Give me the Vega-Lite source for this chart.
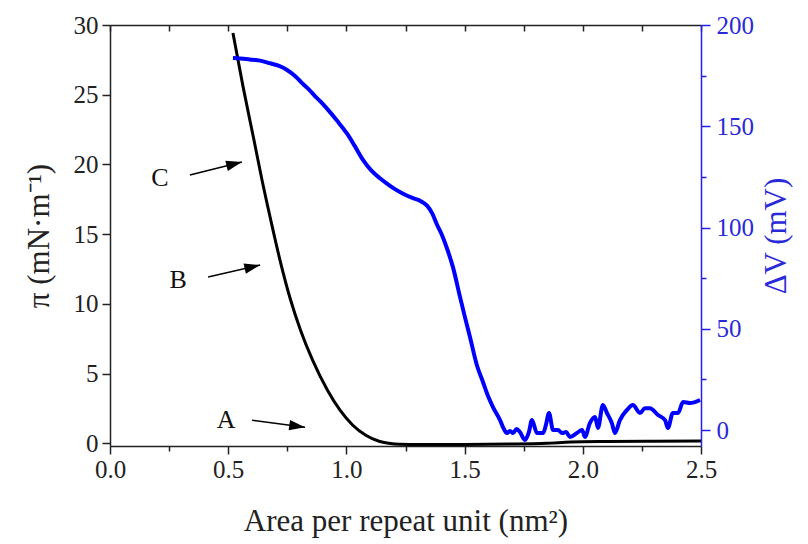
{
  "$schema": "https://vega.github.io/schema/vega-lite/v6.json",
  "width": 591,
  "height": 421,
  "autosize": {"type": "none"},
  "padding": {"left": 110, "top": 25, "right": 107, "bottom": 98},
  "background": "white",
  "config": {
    "view": {"stroke": null},
    "font": "Liberation Serif",
    "axis": {
      "labelFont": "Liberation Serif",
      "titleFont": "Liberation Serif",
      "grid": false,
      "labelFontSize": 25,
      "titleFontSize": 31,
      "titleFontWeight": "normal",
      "labelOverlap": false,
      "labelFlush": false,
      "labelBound": false
    }
  },
  "datasets": {
    "pi": [
      {"x": 0.520, "y": 29.43}, {"x": 0.563, "y": 25.56}, {"x": 0.609, "y": 21.75}, {"x": 0.643, "y": 18.88},
      {"x": 0.680, "y": 16.01}, {"x": 0.719, "y": 13.14}, {"x": 0.764, "y": 10.27}, {"x": 0.806, "y": 8.11},
      {"x": 0.857, "y": 5.96}, {"x": 0.920, "y": 3.80}, {"x": 0.973, "y": 2.37}, {"x": 1.027, "y": 1.29},
      {"x": 1.082, "y": 0.57}, {"x": 1.138, "y": 0.14}, {"x": 1.180, "y": 0.0}, {"x": 1.227, "y": -0.07},
      {"x": 1.3, "y": -0.09}, {"x": 1.5, "y": -0.09}, {"x": 1.7, "y": -0.06},
      {"x": 1.85, "y": 0.0}, {"x": 1.95, "y": 0.08}, {"x": 2.1, "y": 0.12}, {"x": 2.3, "y": 0.14}, {"x": 2.5, "y": 0.15}
    ],
    "dv": [
      {"x": 0.520, "y": 183.7}, {"x": 0.550, "y": 183.5}, {"x": 0.592, "y": 183.0}, {"x": 0.635, "y": 182.4}, {"x": 0.677, "y": 181.1}, {"x": 0.715, "y": 179.8}, {"x": 0.749, "y": 177.8},
      {"x": 0.785, "y": 174.6}, {"x": 0.816, "y": 170.9}, {"x": 0.843, "y": 168.0}, {"x": 0.867, "y": 164.9}, {"x": 0.893, "y": 161.9}, {"x": 0.917, "y": 158.8}, {"x": 0.960, "y": 152.8}, {"x": 1.003, "y": 146.3},
      {"x": 1.035, "y": 140.3}, {"x": 1.070, "y": 133.4}, {"x": 1.105, "y": 128.2}, {"x": 1.142, "y": 124.3}, {"x": 1.170, "y": 121.8}, {"x": 1.197, "y": 119.6}, {"x": 1.240, "y": 116.7}, {"x": 1.282, "y": 114.5},
      {"x": 1.315, "y": 113.0}, {"x": 1.341, "y": 110.8}, {"x": 1.363, "y": 107.0}, {"x": 1.383, "y": 101.5}, {"x": 1.405, "y": 96.0}, {"x": 1.426, "y": 89.5}, {"x": 1.451, "y": 80.3},
      {"x": 1.481, "y": 65.5}, {"x": 1.503, "y": 55.0}, {"x": 1.523, "y": 45.8}, {"x": 1.552, "y": 32.0}, {"x": 1.578, "y": 23.6},
      {"x": 1.600, "y": 16.5}, {"x": 1.620, "y": 11.3}, {"x": 1.650, "y": 4.9}, {"x": 1.665, "y": 0.8}, {"x": 1.679, "y": -1.5}, {"x": 1.692, "y": -0.5}, {"x": 1.705, "y": -1.5},
      {"x": 1.720, "y": 0.5}, {"x": 1.734, "y": -1.0}, {"x": 1.755, "y": -4.9}, {"x": 1.772, "y": -1.0}, {"x": 1.785, "y": 4.9},
      {"x": 1.806, "y": -1.5}, {"x": 1.832, "y": -1.5}, {"x": 1.844, "y": 2.5}, {"x": 1.857, "y": 8.4},
      {"x": 1.874, "y": 0.0}, {"x": 1.895, "y": 0.0}, {"x": 1.912, "y": -1.5}, {"x": 1.929, "y": -1.0},
      {"x": 1.946, "y": -3.4}, {"x": 1.975, "y": -1.5}, {"x": 1.997, "y": 0.0}, {"x": 2.009, "y": -3.4},
      {"x": 2.030, "y": 3.4}, {"x": 2.052, "y": 6.4}, {"x": 2.064, "y": 1.0}, {"x": 2.085, "y": 12.3},
      {"x": 2.102, "y": 8.4}, {"x": 2.123, "y": 3.4}, {"x": 2.136, "y": -1.5}, {"x": 2.157, "y": 4.9},
      {"x": 2.187, "y": 9.9}, {"x": 2.212, "y": 12.3}, {"x": 2.242, "y": 8.4}, {"x": 2.263, "y": 10.8},
      {"x": 2.284, "y": 10.8}, {"x": 2.318, "y": 7.4}, {"x": 2.348, "y": 4.9}, {"x": 2.360, "y": 1.0},
      {"x": 2.381, "y": 8.4}, {"x": 2.403, "y": 8.4}, {"x": 2.424, "y": 13.8}, {"x": 2.453, "y": 13.3},
      {"x": 2.496, "y": 14.8}
    ],
    "ann": [
      {"label": "C", "tx": 0.2115, "ty": 19.02, "x": 0.338, "y": 19.24, "x2": 0.558, "y2": 20.17, "heading": -14},
      {"label": "B", "tx": 0.288, "ty": 11.7, "x": 0.415, "y": 11.92, "x2": 0.635, "y2": 12.78, "heading": -13},
      {"label": "A", "tx": 0.491, "ty": 1.65, "x": 0.601, "y": 1.65, "x2": 0.825, "y2": 1.15, "heading": 7.5}
    ]
  },
  "layer": [
    {
      "layer": [
        {
          "data": {"name": "pi"},
          "mark": {"type": "line", "color": "#000000", "strokeWidth": 3, "interpolate": "monotone"},
          "encoding": {
            "x": {
              "field": "x", "type": "quantitative",
              "scale": {"domain": [0, 2.5], "nice": false},
              "axis": {
                "orient": "bottom",
                "title": "Area per repeat unit (nm²)",
                "labelFont": "Liberation Serif", "titleFont": "Liberation Serif",
                "labelFontSize": 25, "titleFontSize": 31,
                "values": [0, 0.25, 0.5, 0.75, 1, 1.25, 1.5, 1.75, 2, 2.25, 2.5],
                "labelExpr": "round(datum.value*2) === datum.value*2 ? format(datum.value, '.1f') : ''",
                "tickSize": {"condition": {"test": "round(datum.value*2) !== datum.value*2", "value": 5}, "value": 8},
                "domainColor": "#222222", "tickColor": "#222222", "labelColor": "#222222", "titleColor": "#222222",
                "domainWidth": 1.5, "tickWidth": 1.5,
                "labelPadding": 3, "titlePadding": 24
              }
            },
            "y": {
              "field": "y", "type": "quantitative",
              "scale": {"domain": [-0.2, 30], "nice": false},
              "axis": {
                "orient": "left",
                "title": "π (mN·m⁻¹)",
                "labelFont": "Liberation Serif", "titleFont": "Liberation Serif",
                "labelFontSize": 25, "titleFontSize": 31,
                "values": [0, 2.5, 5, 7.5, 10, 12.5, 15, 17.5, 20, 22.5, 25, 27.5, 30],
                "labelExpr": "datum.value % 5 === 0 ? datum.label : ''",
                "tickSize": {"condition": {"test": "datum.value % 5 !== 0", "value": 5}, "value": 8},
                "domainColor": "#222222", "tickColor": "#222222", "labelColor": "#222222", "titleColor": "#222222",
                "domainWidth": 1.5, "tickWidth": 1.5,
                "labelPadding": 4, "titlePadding": 18
              }
            }
          }
        },
        {
          "data": {"name": "ann"},
          "mark": {"type": "rule", "color": "#000000", "strokeWidth": 1.5},
          "encoding": {
            "x": {"field": "x", "type": "quantitative"},
            "y": {"field": "y", "type": "quantitative"},
            "x2": {"field": "x2"},
            "y2": {"field": "y2"}
          }
        },
        {
          "data": {"name": "ann"},
          "mark": {"type": "point", "shape": "M0,0L-1,-0.33L-1,0.33Z", "filled": true, "color": "#000000", "size": 1000, "opacity": 1},
          "encoding": {
            "x": {"field": "x2", "type": "quantitative"},
            "y": {"field": "y2", "type": "quantitative"},
            "angle": {"field": "heading", "type": "quantitative", "scale": null}
          }
        },
        {
          "data": {"name": "ann"},
          "mark": {"type": "text", "font": "Liberation Serif", "fontSize": 26, "color": "#111111", "align": "center", "baseline": "middle"},
          "encoding": {
            "x": {"field": "tx", "type": "quantitative"},
            "y": {"field": "ty", "type": "quantitative"},
            "text": {"field": "label"}
          }
        }
      ]
    },
    {
      "data": {"name": "dv"},
      "mark": {"type": "line", "color": "#0000ff", "strokeWidth": 4, "interpolate": "monotone"},
      "encoding": {
        "x": {
          "field": "x", "type": "quantitative",
          "scale": {"domain": [0, 2.5], "nice": false},
          "axis": {
            "orient": "top",
            "title": null,
            "labels": false,
            "values": [0, 0.25, 0.5, 0.75, 1, 1.25, 1.5, 1.75, 2, 2.25, 2.5],
            "tickSize": -6,
            "domainColor": "#222222", "tickColor": "#222222",
            "domainWidth": 1.5, "tickWidth": 1.5
          }
        },
        "y": {
          "field": "y", "type": "quantitative",
          "scale": {"domain": [-7.9, 200], "nice": false},
          "axis": {
            "orient": "right",
            "title": "ΔV (mV)",
            "titleAngle": 270,
            "titleBaseline": "top",
            "labelFont": "Liberation Serif", "titleFont": "Liberation Serif",
            "labelFontSize": 25, "titleFontSize": 31,
            "values": [0, 25, 50, 75, 100, 125, 150, 175, 200],
            "labelExpr": "datum.value % 50 === 0 ? datum.label : ''",
            "tickSize": {"condition": {"test": "datum.value % 50 !== 0", "value": 5}, "value": 9},
            "domainColor": "#2020f0", "tickColor": "#2020f0", "labelColor": "#2a2ad8", "titleColor": "#2a2ad8",
            "domainWidth": 1.5, "tickWidth": 1.5,
            "labelPadding": 6, "titlePadding": 8
          }
        }
      }
    }
  ],
  "resolve": {"scale": {"y": "independent"}, "axis": {"x": "independent"}}
}
